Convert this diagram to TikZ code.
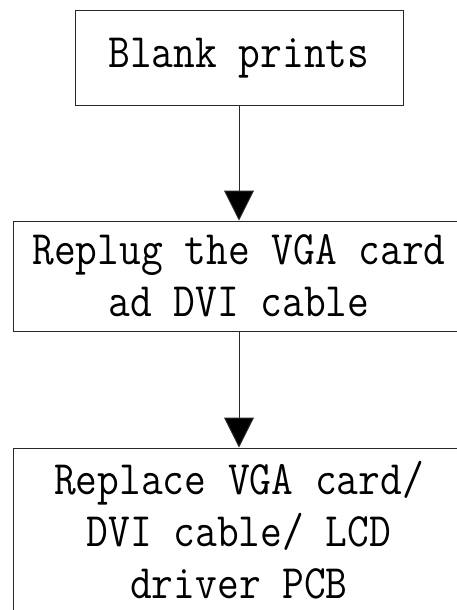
\documentclass[tikz,border=0pt]{standalone}
\usepackage{fontspec}
\usetikzlibrary{positioning,arrows.meta}
\newfontfamily\flowmono[FakeStretch=0.88]{Latin Modern Mono}
\definecolor{edgegray}{RGB}{40,40,40}

\begin{document}
\begin{tikzpicture}[x=1pt,y=-1pt,line width=1pt,
  flowbox/.style={draw=edgegray,inner sep=0pt,align=center,font=\flowmono\fontsize{48}{52}\selectfont},
  flowarrow/.style={draw=edgegray,-{Triangle[width=30pt,length=30pt,fill=black]}}]
  \useasboundingbox (0,0) rectangle (456,610);
  % the three steps, top to bottom
  \node[flowbox,minimum width=328pt,minimum height=94pt] (blank) at (239,58) {Blank prints};
  \node[flowbox,minimum width=452pt,minimum height=110pt,below=115pt of blank] (replug) {Replug the VGA card\\ad DVI cable};
  \node[flowbox,minimum width=452pt,minimum height=164pt,below=116pt of replug] (replace) {Replace VGA card/\\DVI cable/ LCD\\driver PCB};
  % connectors
  \draw[flowarrow] (blank) -- (replug);
  \draw[flowarrow] (replug) -- (replace);
\end{tikzpicture}
\end{document}
